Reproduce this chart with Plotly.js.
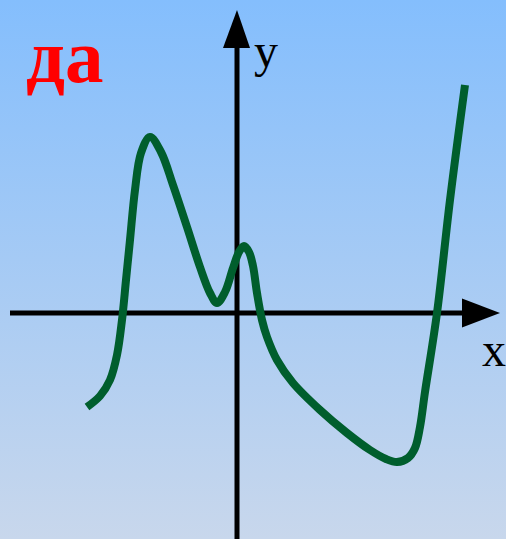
<!DOCTYPE html>
<html>
<head>
<meta charset="utf-8">
<script src="https://cdn.plot.ly/plotly-3.0.1.min.js"></script>
<style>
  html, body { margin: 0; padding: 0; }
  #chart { width: 506px; height: 539px; background: linear-gradient(to bottom, #84befd 0%, #c8d7ec 100%); }
</style>
</head>
<body>
<div id="chart"></div>
<script>
// Curve sample points (data units, origin at the axes crossing)
const curveX = [-1.50, -1.37, -1.27, -1.20, -1.15, -1.11, -1.07, -1.02, -0.96, -0.87, -0.76, -0.64, -0.50, -0.37, -0.27, -0.20, -0.12, -0.04, 0.02, 0.07, 0.12, 0.16, 0.20, 0.25, 0.30, 0.40, 0.56, 0.83, 1.10, 1.33, 1.49, 1.60, 1.71, 1.78, 1.83, 1.88, 2.00, 2.13, 2.28];
const curveY = [-0.94, -0.83, -0.67, -0.42, -0.07, 0.33, 0.73, 1.23, 1.60, 1.76, 1.61, 1.28, 0.86, 0.46, 0.20, 0.10, 0.21, 0.45, 0.61, 0.67, 0.61, 0.47, 0.20, -0.07, -0.24, -0.47, -0.70, -0.97, -1.20, -1.37, -1.46, -1.49, -1.45, -1.35, -1.14, -0.79, 0.00, 1.13, 2.28];
// Axis extents
const xAxisExtent = [-2.27, 2.63];
const yAxisExtent = [-2.30, 3.03];
const labels = { title: "да", x: "x", y: "y" };

const xr = [-2.37, 2.69];
const yr = [-2.26, 3.13];

const shapes = [
  { type: 'line', xref: 'x', yref: 'y', x0: xAxisExtent[0], y0: 0, x1: xAxisExtent[1] - 0.3, y1: 0,
    line: { color: '#000', width: 5 }, layer: 'below' },
  { type: 'line', xref: 'x', yref: 'y', x0: 0, y0: yAxisExtent[0], x1: 0, y1: yAxisExtent[1] - 0.3,
    line: { color: '#000', width: 5 }, layer: 'below' },
  { type: 'path', xref: 'x', yref: 'y',
    path: `M ${xAxisExtent[1]-0.38} 0.145 L ${xAxisExtent[1]} 0 L ${xAxisExtent[1]-0.38} -0.145 Z`,
    fillcolor: '#000', line: { color: '#000', width: 0 }, layer: 'below' },
  { type: 'path', xref: 'x', yref: 'y',
    path: `M -0.14 ${yAxisExtent[1]-0.38} L 0 ${yAxisExtent[1]} L 0.13 ${yAxisExtent[1]-0.38} Z`,
    fillcolor: '#000', line: { color: '#000', width: 0 }, layer: 'below' }
];

const trace = {
  x: curveX, y: curveY, type: 'scatter', mode: 'lines',
  line: { color: '#005e2d', width: 8, shape: 'spline', smoothing: 1 },
  hoverinfo: 'skip'
};

const layout = {
  width: 506, height: 539,
  margin: { l: 0, r: 0, t: 0, b: 0 },
  paper_bgcolor: 'rgba(0,0,0,0)', plot_bgcolor: 'rgba(0,0,0,0)',
  showlegend: false,
  xaxis: { range: xr, visible: false, fixedrange: true },
  yaxis: { range: yr, visible: false, fixedrange: true },
  shapes: shapes,
  annotations: [
    { text: '<b>' + labels.title + '</b>', xref: 'paper', yref: 'paper', x: 24/506, y: 1 - 56/539,
      xanchor: 'left', yanchor: 'middle', showarrow: false,
      font: { family: 'Liberation Serif, Times New Roman, serif', size: 77, color: '#ff0000' } },
    { text: labels.y, xref: 'paper', yref: 'paper', x: 252/506, y: 1 - 51/539,
      xanchor: 'left', yanchor: 'middle', showarrow: false,
      font: { family: 'Liberation Serif, Times New Roman, serif', size: 48, color: '#000' } },
    { text: labels.x, xref: 'paper', yref: 'paper', x: 480/506, y: 1 - 349/539,
      xanchor: 'left', yanchor: 'middle', showarrow: false,
      font: { family: 'Liberation Serif, Times New Roman, serif', size: 48, color: '#000' } }
  ]
};

Plotly.newPlot('chart', [trace], layout, { displayModeBar: false, staticPlot: true });
</script>
</body>
</html>
